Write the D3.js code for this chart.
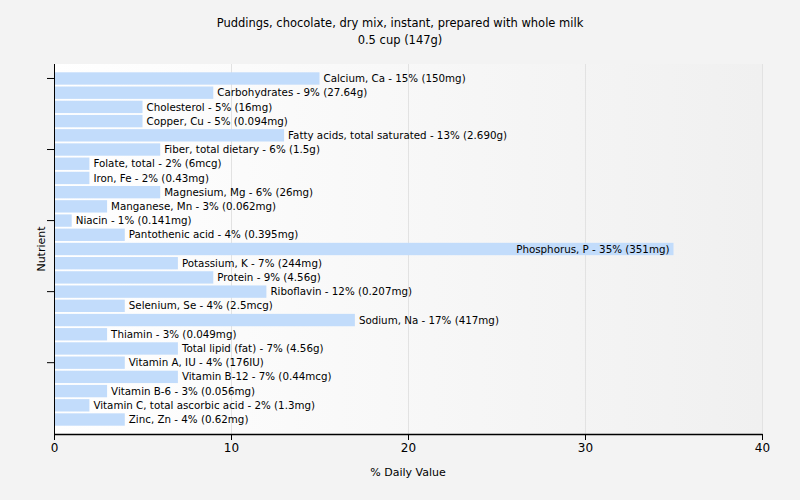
<!doctype html>
<html>
<head>
<style>
	body { margin: 0; background: #f3f3f3; }
	text { font-family: Tahoma, "DejaVu Sans", sans-serif; fill: #000; }
</style>
<script src="https://d3js.org/d3.v7.min.js"></script>
</head>
<body>
<script>

var nutrients = ["Calcium, Ca", "Carbohydrates", "Cholesterol", "Copper, Cu", "Fatty acids, total saturated",
	"Fiber, total dietary", "Folate, total", "Iron, Fe", "Magnesium, Mg", "Manganese, Mn", "Niacin",
	"Pantothenic acid", "Phosphorus, P", "Potassium, K", "Protein", "Riboflavin", "Selenium, Se",
	"Sodium, Na", "Thiamin", "Total lipid (fat)", "Vitamin A, IU", "Vitamin B-12", "Vitamin B-6",
	"Vitamin C, total ascorbic acid", "Zinc, Zn"];
var dailyValue = [15, 9, 5, 5, 13, 6, 2, 2, 6, 3, 1, 4, 35, 7, 9, 12, 4, 17, 3, 7, 4, 7, 3, 2, 4];
var amounts = ["150mg", "27.64g", "16mg", "0.094mg", "2.690g", "1.5g", "6mcg", "0.43mg", "26mg", "0.062mg",
	"0.141mg", "0.395mg", "351mg", "244mg", "4.56g", "0.207mg", "2.5mcg", "417mg", "0.049mg", "4.56g",
	"176IU", "0.44mcg", "0.056mg", "1.3mg", "0.62mg"];
var xTicks = [0, 10, 20, 30, 40];

var width = 800, height = 500;
var plotL = 54, plotR = 762, plotT = 64, plotB = 434;

var svg = d3.select("body").append("svg")
	.attr("width", width)
	.attr("height", height);

var grad = svg.append("defs").append("linearGradient")
	.attr("id", "bg")
	.attr("x1", "0%").attr("x2", "100%");
grad.append("stop").attr("offset", "0%").attr("stop-color", "#ffffff");
grad.append("stop").attr("offset", "100%").attr("stop-color", "#f0f0f0");

svg.append("rect")
	.attr("x", plotL).attr("y", plotT)
	.attr("width", plotR - plotL).attr("height", plotB - plotT)
	.attr("fill", "url(#bg)");

var x = d3.scaleLinear().domain([0, 40]).range([plotL, plotR]);
var y = d3.scaleBand().domain(nutrients).range([plotT + 8.3, plotB - 8.3]).paddingInner(0.13);

// grid
svg.selectAll("line.grid")
	.data(xTicks.slice(1))
	.enter().append("line")
	.attr("x1", function(d) { return x(d) + 0.5; })
	.attr("x2", function(d) { return x(d) + 0.5; })
	.attr("y1", plotT).attr("y2", plotB)
	.attr("stroke", "#e2e2e2");

// bars
svg.selectAll("rect.bar")
	.data(nutrients)
	.enter().append("rect")
	.attr("x", x(0))
	.attr("y", function(d) { return y(d); })
	.attr("width", function(d, i) { return x(dailyValue[i]) - x(0); })
	.attr("height", y.bandwidth())
	.attr("fill", "#c2dcfb");

svg.selectAll("text.label")
	.data(nutrients)
	.enter().append("text")
	.attr("font-size", "10.3px")
	.attr("dy", "0.35em")
	.attr("y", function(d) { return y(d) + y.bandwidth() / 2; })
	.attr("x", function(d, i) { return dailyValue[i] > 30 ? x(dailyValue[i]) - 4 : x(dailyValue[i]) + 4; })
	.attr("text-anchor", function(d, i) { return dailyValue[i] > 30 ? "end" : "start"; })
	.text(function(d, i) { return d + " - " + dailyValue[i] + "% (" + amounts[i] + ")"; });

// axes
var xAxis = svg.append("g")
	.attr("transform", "translate(0," + plotB + ")")
	.call(d3.axisBottom(x).tickValues(xTicks).tickSize(6).tickSizeOuter(0));
xAxis.select(".domain").attr("stroke", "#000").attr("stroke-width", 1.5);
xAxis.selectAll("text").attr("font-size", "12px").attr("font-family", "Tahoma, 'DejaVu Sans', sans-serif");

var yAxis = svg.append("g")
	.attr("transform", "translate(" + plotL + ",0)")
	.call(d3.axisLeft(y).tickValues(nutrients.filter(function(d, i) { return i % 5 == 0; }))
		.tickSize(7).tickSizeOuter(0).tickFormat(""));
yAxis.select(".domain").attr("d", "M0.5," + plotT + "V" + plotB).attr("stroke", "#000");

svg.append("text")
	.attr("x", width / 2).attr("y", 27)
	.attr("text-anchor", "middle").attr("font-size", "11.5px")
	.text("Puddings, chocolate, dry mix, instant, prepared with whole milk");
svg.append("text")
	.attr("x", width / 2).attr("y", 44)
	.attr("text-anchor", "middle").attr("font-size", "11.5px")
	.text("0.5 cup (147g)");

svg.append("text")
	.attr("x", (plotL + plotR) / 2).attr("y", 476)
	.attr("text-anchor", "middle").attr("font-size", "11px")
	.text("% Daily Value");

svg.append("text")
	.attr("transform", "translate(45," + (plotT + plotB) / 2 + ") rotate(-90)")
	.attr("text-anchor", "middle").attr("font-size", "11px")
	.text("Nutrient");

</script>
</body>
</html>
